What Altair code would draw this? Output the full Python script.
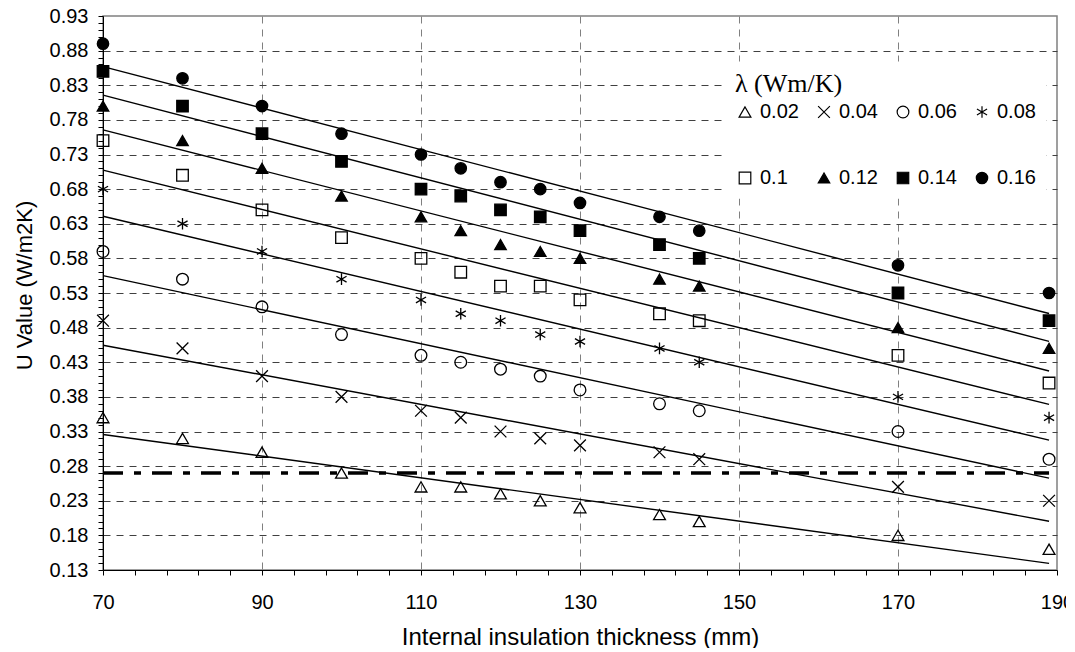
import altair as alt
import pandas as pd

# ---- data ----
thickness = [70, 80, 90, 100, 110, 115, 120, 125, 130, 140, 145, 170, 189]
lambdas = ["0.02", "0.04", "0.06", "0.08", "0.1", "0.12", "0.14", "0.16"]
u_002 = [0.35, 0.32, 0.30, 0.27, 0.25, 0.25, 0.24, 0.23, 0.22, 0.21, 0.20, 0.18, 0.16]
u_004 = [0.49, 0.45, 0.41, 0.38, 0.36, 0.35, 0.33, 0.32, 0.31, 0.30, 0.29, 0.25, 0.23]
u_006 = [0.59, 0.55, 0.51, 0.47, 0.44, 0.43, 0.42, 0.41, 0.39, 0.37, 0.36, 0.33, 0.29]
u_008 = [0.68, 0.63, 0.59, 0.55, 0.52, 0.50, 0.49, 0.47, 0.46, 0.45, 0.43, 0.38, 0.35]
u_010 = [0.75, 0.70, 0.65, 0.61, 0.58, 0.56, 0.54, 0.54, 0.52, 0.50, 0.49, 0.44, 0.40]
u_012 = [0.80, 0.75, 0.71, 0.67, 0.64, 0.62, 0.60, 0.59, 0.58, 0.55, 0.54, 0.48, 0.45]
u_014 = [0.85, 0.80, 0.76, 0.72, 0.68, 0.67, 0.65, 0.64, 0.62, 0.60, 0.58, 0.53, 0.49]
u_016 = [0.89, 0.84, 0.80, 0.76, 0.73, 0.71, 0.69, 0.68, 0.66, 0.64, 0.62, 0.57, 0.53]
series = [u_002, u_004, u_006, u_008, u_010, u_012, u_014, u_016]

limit_u = [0.27]
limit_from = [70]
limit_to = [189]

x_ticks = [70 + 4 * i for i in range(31)]
y_ticks = [round(0.13 + 0.01 * i, 2) for i in range(81)]

rows = []
for lam, vals in zip(lambdas, series):
    for t, u in zip(thickness, vals):
        rows.append({"T": t, "U": u, "lam": lam})
df = pd.DataFrame(rows)
limit_df = pd.DataFrame({"U": limit_u, "x1": limit_from, "x2": limit_to})

# ---- styles ----
X_PATH = "M-1,-1L1,1M-1,1L1,-1"
AST_PATH = "M0,-1L0,1M-0.87,-0.5L0.87,0.5M-0.87,0.5L0.87,-0.5"
shapes = ["triangle-up", X_PATH, "circle", AST_PATH, "square", "triangle-up", "square", "circle"]
fills = ["transparent", "transparent", "transparent", "transparent", "transparent", "black", "black", "black"]
strokes = ["black"] * 8
sizes = [140, 130, 100, 270, 50, 75, 60, 70]

FONT = "Liberation Sans"

legend = alt.Legend(
    title="λ (Wm/K)", orient="none", legendX=622, legendY=45, columns=4,
    direction="horizontal",
    padding=10, fillColor="white", strokeColor="transparent",
    titleFont="Liberation Serif", titleFontSize=26, titleFontWeight="normal",
    titleColor="black", titlePadding=5,
    labelFont=FONT, labelFontSize=20, labelColor="black", labelOffset=5,
    rowPadding=46, columnPadding=15,
    symbolStrokeColor="black", symbolStrokeWidth=1.2,
)

xscale = alt.Scale(domain=[70, 190], nice=False, zero=False)
yscale = alt.Scale(domain=[0.13, 0.93], nice=False, zero=False)

x_axis = alt.Axis(
    values=x_ticks, tickCount=500, title="Internal insulation thickness (mm)",
    labelExpr="(datum.value - 70) % 20 == 0 ? format(datum.value, 'd') : ''",
    labelOverlap=False, labelFlush=False, labelFont=FONT, labelFontSize=20,
    labelColor="black", labelPadding=17,
    titleFont=FONT, titleFontSize=24, titleFontWeight="normal", titleColor="black",
    titlePadding=13,
    tickSize=5, tickColor="black", domainColor="black",
    grid=True, gridColor="#808080", gridDash=[7, 6], gridWidth=1,
    gridOpacity={"condition": {"test": "(datum.value - 70) % 20 == 0 && datum.value > 70 && datum.value < 190", "value": 1}, "value": 0},
)
y_axis = alt.Axis(
    values=y_ticks, tickCount=500, title="U Value (W/m2K)",
    labelExpr="abs(round(datum.value * 100) - 13) % 5 == 0 ? format(datum.value, '.2f') : ''",
    labelOverlap=False, labelFlush=False, labelFont=FONT, labelFontSize=20,
    labelColor="black", labelPadding=10,
    titleFont=FONT, titleFontSize=22, titleFontWeight="normal", titleColor="black",
    titlePadding=13, titleY=269,
    tickSize=5, tickColor="black", domainColor="black",
    grid=True, gridColor="#404040", gridDash=[7, 6], gridWidth=1,
    gridOpacity={"condition": {"test": "abs(round(datum.value * 100) - 13) % 5 == 0 && datum.value > 0.135 && datum.value < 0.925", "value": 1}, "value": 0},
)

base = alt.Chart(df)

points = base.mark_point(opacity=1, strokeWidth=1.3).encode(
    x=alt.X("T:Q", scale=xscale, axis=x_axis),
    y=alt.Y("U:Q", scale=yscale, axis=y_axis),
    shape=alt.Shape("lam:N", scale=alt.Scale(domain=lambdas, range=shapes), legend=legend),
    fill=alt.Fill("lam:N", scale=alt.Scale(domain=lambdas, range=fills), legend=legend),
    stroke=alt.Stroke("lam:N", scale=alt.Scale(domain=lambdas, range=strokes), legend=legend),
    size=alt.Size("lam:N", scale=alt.Scale(domain=lambdas, range=sizes), legend=legend),
)

trend = base.transform_regression(
    "T", "U", groupby=["lam"], extent=[70, 189], method="linear"
).mark_line(color="black", strokeWidth=1.4).encode(
    x=alt.X("T:Q", scale=xscale),
    y=alt.Y("U:Q", scale=yscale),
    detail="lam:N",
)

limit = alt.Chart(limit_df).mark_rule(
    color="black", strokeWidth=3.5, strokeDash=[20, 11, 7, 11]
).encode(
    x=alt.X("x1:Q", scale=xscale),
    x2="x2:Q",
    y=alt.Y("U:Q", scale=yscale),
)

chart = alt.layer(trend, limit, points).properties(
    width=954, height=554,
    autosize=alt.AutoSizeParams(type="none"),
    padding={"left": 95, "top": 8, "right": 9, "bottom": 78},
    background="white",
).configure_view(stroke="#808080", strokeWidth=1.5)

chart.save("out.html", embed_options={"renderer": "svg", "actions": False})
